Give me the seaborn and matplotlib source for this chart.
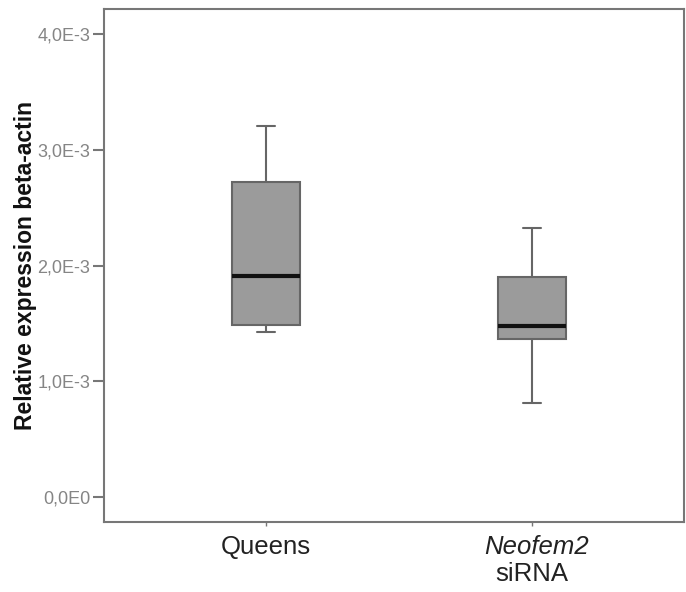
import matplotlib
matplotlib.use("Agg")
import matplotlib.pyplot as plt
from matplotlib.ticker import FuncFormatter
import numpy as np
import pandas as pd
import seaborn as sns

queens = [1.425, 1.486, 1.909, 2.721, 3.205]
neofem2 = [0.812, 1.365, 1.477, 1.901, 2.324]
groups = ["Queens", "Neofem2 siRNA"]
tick_labels = ["Queens", ""]
yticks = [0, 1e-3, 2e-3, 3e-3, 4e-3]

df = pd.DataFrame({
    "group": [groups[0]] * len(queens) + [groups[1]] * len(neofem2),
    "value": np.array(queens + neofem2) * 1e-3,
})

sns.set_style("white")
plt.rcParams["font.family"] = ["Liberation Sans", "DejaVu Sans"]

fig = plt.figure(figsize=(6.86, 5.92), dpi=100)
ax = fig.add_axes([0.1516, 0.118, 0.8454, 0.867])

sns.boxplot(data=df, x="group", y="value", ax=ax, color="#9b9b9b",
            saturation=1, width=0.256, linecolor="#666666", linewidth=1.5,
            medianprops={"color": "#111111", "linewidth": 3},
            capwidths=0.068)

ax.set_xlim(-0.609, 1.571)
ax.set_ylim(-0.216e-3, 4.216e-3)
ax.set_yticks(yticks)


def sci(v, pos):
    if v == 0:
        return "0,0E0"
    exp = int(np.floor(np.log10(abs(v))))
    m = v / 10 ** exp
    return f"{m:.1f}".replace(".", ",") + f"E{exp}"


ax.yaxis.set_major_formatter(FuncFormatter(sci))
ax.set_xticks([0, 1])
ax.set_xticklabels(tick_labels, fontsize=18.5, color="#222222")
ax.tick_params(axis="y", labelsize=13, labelcolor="#858585", length=8,
               width=1.5, color="#777777", left=True, pad=2)
ax.tick_params(axis="x", length=3, width=1, color="#777777", bottom=True, pad=6)

# second category label: italic gene name, then "siRNA" below
ax.annotate("Neofem2", xy=(1, 0), xycoords=("data", "axes fraction"),
            xytext=(3, -9), textcoords="offset points", ha="center", va="top",
            fontsize=18.5, style="italic", color="#222222")
ax.annotate("siRNA", xy=(1, 0), xycoords=("data", "axes fraction"),
            xytext=(0, -29), textcoords="offset points", ha="center", va="top",
            fontsize=18.5, color="#222222")

ax.set_xlabel("")
ax.set_ylabel("Relative expression beta-actin", fontsize=16.5, fontweight="bold",
              color="#111111", labelpad=0)

for s in ax.spines.values():
    s.set_visible(True)
    s.set_color("#777777")
    s.set_linewidth(1.5)

fig.savefig("out.png", dpi=100)
